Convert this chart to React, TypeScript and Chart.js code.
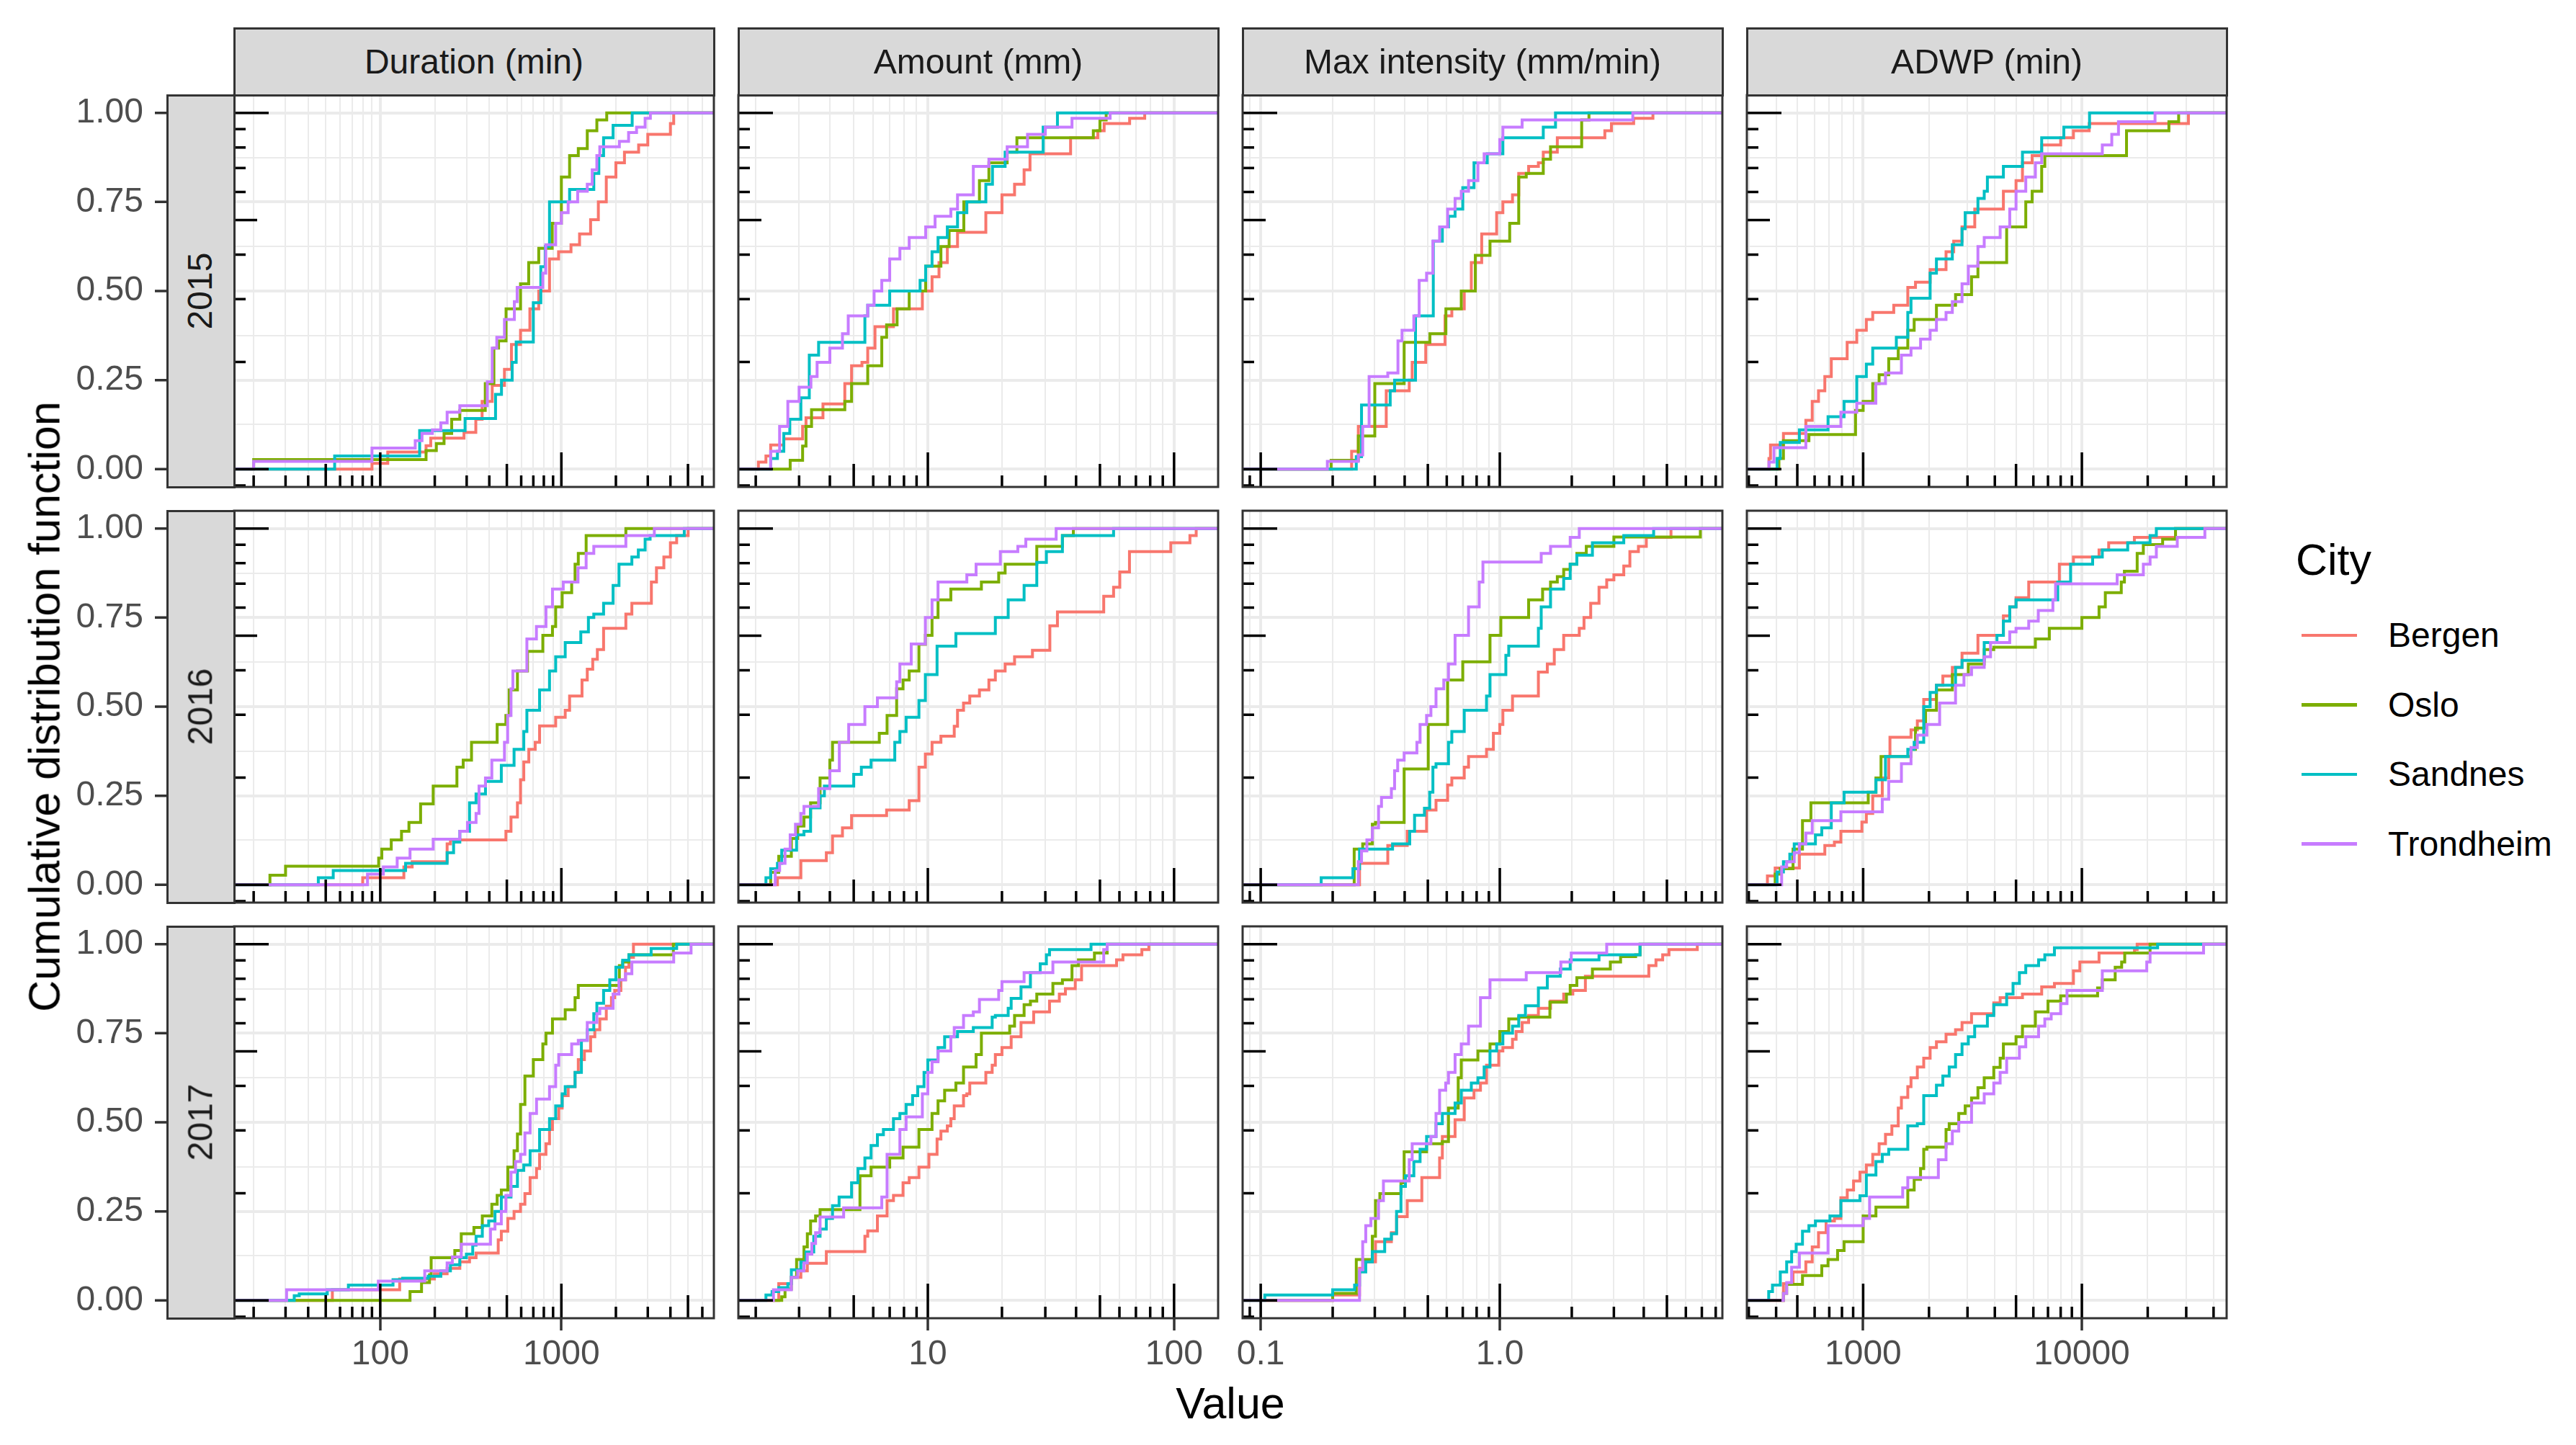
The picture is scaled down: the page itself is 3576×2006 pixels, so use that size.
import React, { useEffect, useRef } from 'react';
import { Chart, registerables } from 'chart.js';

Chart.register(...registerables);

const FONT = '"Liberation Sans", Arial, Helvetica, sans-serif';

// ---------- categories / labels ----------
const CITIES = ['Bergen', 'Oslo', 'Sandnes', 'Trondheim'];
const CITY_COLORS = ['#F8766D', '#7CAE00', '#00BFC4', '#C77CFF'];
const YEARS = ['2015', '2016', '2017'];
const VARIABLES = ['Duration (min)', 'Amount (mm)', 'Max intensity (mm/min)', 'ADWP (min)'];
const X_LIMITS = [[15.6, 6950], [1.7, 151], [0.084, 8.53], [294, 45900]];
const X_BREAKS = [[100, 1000], [10, 100], [0.1, 1], [1000, 10000]];
const X_LABELS = [['100', '1000'], ['10', '100'], ['0.1', '1.0'], ['1000', '10000']];
const Y_LIMITS = [-0.05, 1.05];
const Y_BREAKS = [0, 0.25, 0.5, 0.75, 1];
const Y_LABELS = ['0.00', '0.25', '0.50', '0.75', '1.00'];
const Y_MINOR = [0.125, 0.375, 0.625, 0.875];
const X_TITLE = 'Value';
const Y_TITLE = 'Cumulative distribution function';
const LEGEND_TITLE = 'City';

// ---------- ECDF step corners: [value, cumulative share] ----------
// 2015
const dur15Bergen = [[90,0.016],[110,0.048],[179,0.066],[190,0.087],[290,0.103],[337,0.14],[365,0.19],[415,0.235],[485,0.28],[530,0.35],[595,0.39],[670,0.45],[750,0.5],[860,0.59],[965,0.61],[1130,0.63],[1260,0.66],[1450,0.7],[1600,0.75],[1770,0.82],[2000,0.86],[2230,0.89],[2670,0.91],[3000,0.94],[4000,0.97],[4170,1]];
const dur15Oslo = [[20,0.027],[179,0.052],[204,0.072],[225,0.1],[248,0.14],[275,0.165],[380,0.24],[424,0.34],[450,0.36],[495,0.45],[595,0.52],[660,0.58],[750,0.62],[890,0.69],[1000,0.82],[1110,0.88],[1240,0.9],[1390,0.95],[1570,0.98],[1780,1]];
const dur15Sandnes = [[56,0.037],[165,0.108],[294,0.142],[433,0.21],[467,0.25],[535,0.3],[563,0.357],[700,0.467],[770,0.568],[815,0.625],[860,0.75],[1110,0.785],[1510,0.83],[1610,0.88],[1710,0.93],[1930,0.965],[2460,1]];
const dur15Trondheim = [[20,0.022],[90,0.059],[156,0.08],[170,0.1],[194,0.11],[216,0.13],[234,0.16],[275,0.178],[390,0.245],[415,0.34],[440,0.37],[485,0.42],[550,0.47],[570,0.51],[790,0.55],[820,0.63],[930,0.69],[1000,0.72],[1090,0.75],[1230,0.78],[1390,0.8],[1480,0.84],[1570,0.88],[1630,0.905],[2090,0.92],[2350,0.945],[2600,0.96],[2900,0.985],[3100,1]];

const amt15Bergen = [[2.05,0.02],[2.2,0.037],[2.3,0.068],[2.6,0.085],[3.1,0.12],[3.2,0.144],[3.75,0.183],[4.6,0.24],[4.9,0.29],[5.4,0.3],[5.7,0.34],[6.1,0.4],[7.25,0.45],[9.5,0.5],[10.4,0.54],[11.1,0.58],[12,0.625],[13.2,0.665],[17.2,0.72],[20,0.77],[22.5,0.8],[24.6,0.84],[26,0.885],[38,0.93],[49,0.95],[52,0.97],[66,0.985],[76,1]];
const amt15Oslo = [[2.76,0.025],[3.1,0.065],[3.2,0.12],[3.37,0.167],[4.6,0.19],[4.9,0.24],[5.7,0.29],[6.5,0.37],[6.8,0.405],[7.5,0.45],[8.4,0.5],[9.8,0.57],[11.3,0.625],[12.2,0.67],[14,0.75],[16.2,0.81],[17.7,0.86],[21,0.89],[23,0.93],[47,0.95],[50,0.98],[53,1]];
const amt15Sandnes = [[2.3,0.03],[2.45,0.05],[2.6,0.1],[2.75,0.14],[3.05,0.2],[3.3,0.32],[3.6,0.356],[5.55,0.43],[5.7,0.46],[7,0.5],[9.3,0.53],[9.8,0.57],[10.4,0.61],[11,0.65],[12,0.68],[13.2,0.72],[14.4,0.75],[17.2,0.8],[18.3,0.85],[20.6,0.89],[29.4,0.96],[33.6,1]];
const amt15Trondheim = [[2.3,0.05],[2.5,0.12],[2.7,0.19],[3,0.23],[3.35,0.26],[3.55,0.3],[4,0.34],[4.5,0.38],[4.75,0.43],[5.7,0.46],[6.05,0.5],[6.5,0.53],[7,0.59],[7.7,0.62],[8.4,0.65],[9.8,0.68],[10.7,0.71],[12.4,0.73],[13.2,0.77],[15.3,0.85],[17.7,0.87],[21,0.905],[25.4,0.94],[30,0.96],[38.5,0.985],[55,1]];

const max15Bergen = [[0.24,0.05],[0.256,0.12],[0.335,0.22],[0.418,0.25],[0.43,0.3],[0.49,0.35],[0.59,0.43],[0.63,0.45],[0.71,0.5],[0.76,0.58],[0.84,0.66],[0.97,0.72],[1.03,0.75],[1.13,0.77],[1.2,0.83],[1.32,0.85],[1.45,0.86],[1.52,0.89],[1.74,0.93],[2.75,0.95],[2.93,0.97],[3.63,0.985],[4.37,1]];
const max15Oslo = [[0.197,0.025],[0.256,0.093],[0.3,0.24],[0.398,0.356],[0.51,0.38],[0.595,0.45],[0.69,0.5],[0.79,0.6],[0.91,0.64],[1.1,0.69],[1.2,0.82],[1.29,0.83],[1.52,0.87],[1.63,0.905],[2.2,0.98],[2.36,1]];
const max15Sandnes = [[0.251,0.035],[0.264,0.18],[0.348,0.22],[0.363,0.25],[0.444,0.43],[0.527,0.64],[0.575,0.68],[0.61,0.71],[0.65,0.73],[0.7,0.79],[0.78,0.86],[0.886,0.885],[1.03,0.93],[1.52,0.96],[1.71,1]];
const max15Trondheim = [[0.19,0.022],[0.256,0.04],[0.267,0.12],[0.284,0.26],[0.34,0.27],[0.375,0.36],[0.39,0.39],[0.437,0.43],[0.46,0.53],[0.494,0.55],[0.525,0.64],[0.56,0.68],[0.605,0.73],[0.65,0.76],[0.69,0.78],[0.74,0.81],[0.81,0.86],[0.86,0.885],[1.0,0.925],[1.03,0.96],[1.24,0.98],[3.6,1]];

const adwp15Bergen = [[371,0.03],[377,0.068],[432,0.1],[547,0.137],[585,0.19],[625,0.22],[668,0.26],[715,0.31],[845,0.356],[935,0.39],[1034,0.42],[1106,0.44],[1380,0.46],[1600,0.51],[1735,0.525],[2024,0.56],[2393,0.61],[2594,0.64],[2832,0.68],[3238,0.73],[4377,0.78],[5000,0.81],[5350,0.86],[5925,0.88],[6550,0.91],[8000,0.93],[9150,0.95],[10800,0.97],[30700,1]];
const adwp15Oslo = [[412,0.03],[432,0.08],[565,0.097],[923,0.165],[1000,0.19],[1106,0.24],[1183,0.265],[1309,0.31],[1447,0.34],[1600,0.39],[1711,0.42],[2163,0.46],[2645,0.49],[3130,0.54],[3348,0.58],[4530,0.68],[5540,0.75],[5925,0.78],[6550,0.85],[6770,0.88],[16000,0.95],[25000,0.975],[27700,1]];
const adwp15Sandnes = [[404,0.03],[418,0.075],[511,0.11],[691,0.147],[818,0.19],[935,0.26],[1034,0.295],[1106,0.34],[1418,0.37],[1600,0.44],[1655,0.48],[2024,0.55],[2163,0.59],[2557,0.63],[2832,0.675],[2927,0.72],[3348,0.76],[3577,0.78],[3698,0.82],[4377,0.85],[5350,0.89],[6550,0.93],[8270,0.96],[10840,1]];
const adwp15Trondheim = [[371,0.02],[391,0.06],[547,0.12],[791,0.16],[935,0.185],[1143,0.24],[1265,0.27],[1496,0.32],[1655,0.34],[1830,0.365],[2024,0.39],[2163,0.42],[2393,0.44],[2557,0.47],[2832,0.52],[3026,0.57],[3348,0.625],[3577,0.65],[4230,0.68],[4680,0.73],[5000,0.78],[5540,0.82],[6130,0.86],[6550,0.885],[12400,0.91],[13700,0.94],[14700,0.975],[21600,1]];

// 2016
const dur16Bergen = [[80,0.02],[135,0.05],[150,0.065],[234,0.115],[244,0.126],[494,0.15],[527,0.19],[572,0.23],[595,0.295],[620,0.345],[661,0.38],[717,0.4],[758,0.446],[930,0.47],[1050,0.49],[1110,0.53],[1300,0.575],[1390,0.605],[1490,0.633],[1580,0.66],[1710,0.72],[2270,0.76],[2450,0.79],[3140,0.85],[3350,0.89],[3680,0.92],[4000,0.96],[4330,0.98],[5010,1]];
const dur16Oslo = [[24.6,0.027],[30,0.052],[98,0.075],[102,0.1],[115,0.126],[131,0.15],[144,0.175],[167,0.227],[196,0.277],[265,0.33],[287,0.35],[319,0.4],[442,0.45],[494,0.475],[515,0.547],[572,0.6],[650,0.655],[790,0.7],[893,0.725],[930,0.78],[1010,0.82],[1140,0.85],[1190,0.9],[1240,0.93],[1370,0.98],[2270,1]];
const dur16Sandnes = [[45.5,0.02],[55,0.04],[138,0.06],[234,0.09],[254,0.12],[275,0.15],[311,0.23],[338,0.255],[381,0.29],[466,0.335],[548,0.38],[620,0.43],[645,0.49],[758,0.547],[860,0.6],[930,0.64],[1050,0.68],[1280,0.71],[1410,0.75],[1510,0.76],[1710,0.79],[1930,0.84],[2080,0.9],[2450,0.92],[2660,0.94],[2900,0.97],[3090,0.98],[4770,1]];
const dur16Trondheim = [[85,0.03],[104,0.05],[124,0.075],[146,0.1],[196,0.128],[275,0.15],[303,0.175],[338,0.2],[351,0.277],[381,0.3],[413,0.35],[485,0.4],[505,0.475],[527,0.55],[540,0.6],[645,0.69],[728,0.725],[822,0.78],[893,0.83],[1024,0.85],[1235,0.89],[1370,0.93],[1510,0.95],[2270,0.98],[3260,1]];

const amt16Bergen = [[2.45,0.02],[3.05,0.068],[3.87,0.09],[4.1,0.137],[4.5,0.16],[4.9,0.194],[6.8,0.21],[8.4,0.236],[9.2,0.33],[9.77,0.367],[10.4,0.4],[11.3,0.417],[12.8,0.445],[13.2,0.49],[13.96,0.51],[14.8,0.53],[16.2,0.547],[17.7,0.575],[18.8,0.6],[20.6,0.62],[22.5,0.64],[26.6,0.658],[31.3,0.727],[33.6,0.766],[51.8,0.81],[56.8,0.835],[60.2,0.878],[65.9,0.935],[97,0.96],[116,0.98],[123,1]];
const amt16Oslo = [[2.3,0.035],[2.48,0.08],[2.79,0.13],[2.96,0.165],[3.14,0.19],[3.34,0.23],[3.65,0.3],[4.0,0.35],[4.1,0.4],[6.35,0.425],[6.83,0.475],[7.47,0.55],[7.93,0.575],[8.4,0.6],[9.2,0.675],[9.77,0.7],[10.4,0.75],[11,0.8],[12.4,0.83],[16.5,0.85],[19.4,0.875],[20.6,0.9],[27.7,0.95],[35.2,0.98],[39,1]];
const amt16Sandnes = [[2.2,0.02],[2.3,0.045],[2.45,0.06],[2.55,0.097],[2.93,0.14],[3.14,0.15],[3.34,0.216],[3.65,0.25],[3.8,0.277],[5.0,0.31],[5.37,0.33],[5.88,0.35],[7.34,0.4],[7.7,0.43],[8.16,0.47],[9.2,0.517],[9.77,0.59],[10.9,0.67],[13,0.705],[18.8,0.75],[21.2,0.8],[24.6,0.84],[27.7,0.905],[30.3,0.935],[35.2,0.98],[56.8,1]];
const amt16Trondheim = [[2.4,0.04],[2.5,0.06],[2.63,0.1],[2.76,0.14],[2.9,0.17],[3.05,0.2],[3.14,0.22],[3.6,0.27],[4.0,0.32],[4.37,0.4],[4.77,0.45],[5.55,0.5],[6.24,0.525],[7.47,0.57],[7.7,0.62],[8.56,0.676],[9.77,0.75],[10.4,0.8],[11,0.85],[14.4,0.87],[15.7,0.9],[19.7,0.935],[23.2,0.95],[25,0.97],[33.2,1]];

const max16Bergen = [[0.259,0.06],[0.34,0.11],[0.41,0.15],[0.494,0.21],[0.541,0.237],[0.605,0.28],[0.63,0.3],[0.71,0.33],[0.74,0.36],[0.88,0.38],[0.94,0.425],[1.0,0.45],[1.03,0.49],[1.13,0.53],[1.45,0.597],[1.58,0.62],[1.69,0.66],[1.85,0.7],[2.15,0.72],[2.25,0.75],[2.4,0.79],[2.6,0.835],[2.8,0.856],[3.0,0.87],[3.3,0.895],[3.5,0.935],[3.8,0.95],[4.1,0.975],[5.2,1]];
const max16Oslo = [[0.246,0.1],[0.267,0.115],[0.293,0.17],[0.302,0.175],[0.398,0.325],[0.502,0.45],[0.605,0.575],[0.7,0.626],[0.91,0.7],[1.01,0.75],[1.32,0.8],[1.51,0.83],[1.63,0.85],[1.74,0.865],[1.85,0.885],[1.97,0.9],[2.1,0.93],[2.3,0.95],[3.0,0.976],[6.9,1]];
const max16Sandnes = [[0.179,0.02],[0.243,0.045],[0.259,0.1],[0.356,0.115],[0.42,0.15],[0.44,0.195],[0.484,0.215],[0.509,0.26],[0.525,0.33],[0.541,0.34],[0.61,0.4],[0.63,0.43],[0.71,0.49],[0.88,0.53],[0.91,0.59],[1.06,0.644],[1.09,0.67],[1.45,0.72],[1.49,0.78],[1.63,0.83],[1.85,0.86],[1.97,0.9],[2.1,0.925],[2.44,0.96],[3.3,0.98],[4.4,1]];
const max16Trondheim = [[0.256,0.065],[0.264,0.095],[0.278,0.126],[0.293,0.16],[0.311,0.22],[0.32,0.245],[0.352,0.27],[0.363,0.32],[0.374,0.35],[0.398,0.37],[0.45,0.4],[0.464,0.45],[0.494,0.475],[0.515,0.5],[0.541,0.55],[0.583,0.575],[0.61,0.62],[0.65,0.7],[0.74,0.78],[0.82,0.85],[0.85,0.906],[1.49,0.93],[1.63,0.95],[1.97,0.975],[2.15,1]];

const adwp16Bergen = [[365,0.025],[396,0.047],[511,0.086],[668,0.11],[739,0.12],[791,0.15],[987,0.176],[1034,0.2],[1106,0.25],[1223,0.3],[1309,0.36],[1326,0.414],[1655,0.435],[1769,0.46],[1892,0.52],[2163,0.56],[2314,0.586],[2557,0.61],[2832,0.65],[3348,0.7],[4377,0.755],[4680,0.78],[5000,0.806],[5715,0.85],[7890,0.9],[9150,0.92],[11980,0.94],[13260,0.96],[17380,0.975],[26800,1]];
const adwp16Oslo = [[396,0.03],[418,0.045],[478,0.1],[528,0.18],[577,0.23],[1055,0.26],[1144,0.3],[1207,0.36],[1655,0.38],[1735,0.44],[1930,0.49],[2163,0.547],[2557,0.59],[3026,0.62],[3577,0.66],[3956,0.667],[6130,0.69],[7100,0.72],[10000,0.75],[11980,0.78],[12800,0.82],[15140,0.85],[15650,0.88],[17900,0.93],[19100,0.955],[23400,0.97],[26800,1]];
const adwp16Sandnes = [[404,0.036],[432,0.065],[462,0.086],[484,0.115],[605,0.14],[647,0.16],[715,0.23],[818,0.26],[1144,0.295],[1265,0.36],[1600,0.38],[1711,0.4],[1892,0.5],[2024,0.54],[2163,0.56],[2645,0.61],[2832,0.63],[3577,0.68],[4090,0.7],[4377,0.74],[4680,0.78],[5000,0.8],[7760,0.85],[8880,0.9],[11200,0.92],[12400,0.94],[16200,0.96],[20500,0.98],[21900,1]];
const adwp16Trondheim = [[424,0.05],[447,0.065],[484,0.09],[511,0.115],[547,0.145],[585,0.18],[791,0.205],[1223,0.24],[1309,0.29],[1496,0.34],[1655,0.385],[1769,0.42],[1956,0.45],[2237,0.51],[2645,0.56],[2890,0.59],[3130,0.61],[3577,0.64],[3823,0.68],[4680,0.71],[5000,0.72],[5715,0.74],[6320,0.77],[7370,0.8],[7580,0.845],[14500,0.87],[19100,0.9],[20500,0.92],[21900,0.95],[27300,0.975],[36500,1]];

// 2017
const dur17Bergen = [[54.4,0.03],[128,0.06],[199,0.075],[234,0.09],[275,0.108],[311,0.12],[338,0.133],[448,0.17],[466,0.194],[506,0.23],[548,0.25],[595,0.27],[629,0.3],[672,0.345],[729,0.37],[758,0.41],[822,0.44],[860,0.48],[893,0.51],[967,0.54],[1010,0.575],[1090,0.6],[1190,0.64],[1240,0.676],[1340,0.7],[1450,0.74],[1530,0.76],[1630,0.79],[1770,0.826],[1890,0.85],[1970,0.87],[2130,0.9],[2260,0.935],[2360,0.963],[2500,1]];
const dur17Oslo = [[146,0.025],[169,0.05],[187,0.072],[191,0.12],[258,0.14],[280,0.187],[329,0.205],[366,0.237],[413,0.27],[442,0.295],[466,0.31],[506,0.374],[548,0.42],[572,0.467],[595,0.55],[629,0.63],[700,0.676],[790,0.72],[822,0.75],[893,0.79],[1050,0.816],[1190,0.85],[1240,0.884],[2090,0.94],[2180,0.95],[2360,0.97],[4150,1]];
const dur17Sandnes = [[33.5,0.013],[35.7,0.018],[51,0.03],[66.7,0.043],[117.6,0.058],[133,0.062],[184,0.068],[216,0.083],[244,0.1],[275,0.12],[299,0.13],[324,0.155],[338,0.18],[366,0.21],[397,0.223],[430,0.25],[466,0.29],[527,0.32],[572,0.365],[620,0.38],[672,0.42],[758,0.48],[860,0.51],[930,0.546],[1010,0.58],[1050,0.6],[1190,0.64],[1290,0.73],[1390,0.76],[1510,0.805],[1570,0.834],[1710,0.87],[1850,0.9],[2000,0.935],[2180,0.955],[2360,0.97],[3130,0.988],[4330,1]];
const dur17Trondheim = [[30.4,0.03],[97.6,0.054],[176,0.083],[234,0.105],[250,0.122],[280,0.158],[406,0.2],[430,0.215],[466,0.25],[494,0.295],[527,0.36],[558,0.39],[595,0.41],[629,0.47],[672,0.525],[729,0.565],[860,0.6],[930,0.66],[967,0.69],[1140,0.72],[1240,0.73],[1390,0.78],[1570,0.805],[1630,0.82],[1930,0.86],[2080,0.9],[2260,0.917],[2450,0.95],[4170,0.975],[5200,1]];

const amt17Bergen = [[2.48,0.047],[2.79,0.065],[3.05,0.083],[3.24,0.104],[3.87,0.137],[5.55,0.18],[5.7,0.195],[6.24,0.237],[6.83,0.28],[7.25,0.295],[7.93,0.33],[8.4,0.345],[9.2,0.374],[10.1,0.41],[10.9,0.453],[11.3,0.475],[12,0.49],[12.4,0.51],[12.8,0.546],[13.96,0.575],[14.4,0.58],[14.8,0.61],[17.2,0.64],[18.25,0.66],[18.8,0.69],[20,0.71],[21.8,0.74],[23.9,0.78],[26.9,0.81],[31.2,0.84],[34.2,0.86],[36.2,0.875],[39.7,0.9],[42.1,0.94],[58.4,0.956],[62,0.97],[74,0.985],[79,1]];
const amt17Oslo = [[2.55,0.01],[2.63,0.032],[2.79,0.065],[2.93,0.115],[3.14,0.15],[3.24,0.187],[3.34,0.223],[3.5,0.237],[3.65,0.255],[5.3,0.35],[5.88,0.374],[7.0,0.4],[7.93,0.43],[9.2,0.48],[10.4,0.525],[11,0.56],[11.7,0.59],[13,0.61],[13.96,0.655],[15.7,0.69],[16.5,0.75],[21.5,0.77],[22.5,0.8],[24.6,0.83],[26.1,0.84],[27.7,0.86],[32.2,0.89],[35.2,0.9],[38.5,0.94],[40.9,0.956],[47.5,0.975],[53.5,1]];
const amt17Sandnes = [[2.2,0.015],[2.33,0.025],[2.48,0.036],[2.7,0.047],[2.79,0.086],[3.05,0.108],[3.2,0.136],[3.44,0.18],[3.65,0.2],[3.87,0.23],[4.1,0.266],[4.36,0.29],[4.9,0.33],[5.2,0.37],[5.55,0.4],[5.88,0.435],[6.24,0.465],[6.6,0.48],[7.25,0.51],[7.7,0.525],[8.16,0.55],[8.67,0.575],[9.1,0.6],[9.65,0.64],[10,0.675],[11,0.71],[11.7,0.74],[13.2,0.755],[15.3,0.766],[18.25,0.795],[18.8,0.8],[21.2,0.82],[21.8,0.848],[23.9,0.88],[26.1,0.92],[28.6,0.945],[30.3,0.97],[31.2,0.985],[46,1]];
const amt17Trondheim = [[2.36,0.03],[2.79,0.065],[2.96,0.083],[3.14,0.105],[3.24,0.13],[3.38,0.16],[3.5,0.19],[3.65,0.234],[4.55,0.26],[6.5,0.29],[6.83,0.41],[7.7,0.48],[8.16,0.515],[9.5,0.58],[10,0.64],[10.4,0.67],[11,0.7],[12.4,0.74],[12.8,0.766],[13.96,0.8],[15.3,0.81],[16.2,0.845],[19.4,0.87],[20,0.895],[24.6,0.92],[32.2,0.95],[51.8,0.985],[53.5,1]];

const max17Bergen = [[0.2,0.015],[0.259,0.09],[0.267,0.108],[0.302,0.165],[0.352,0.19],[0.37,0.235],[0.41,0.28],[0.472,0.345],[0.56,0.4],[0.575,0.46],[0.65,0.507],[0.71,0.568],[0.78,0.59],[0.83,0.61],[0.88,0.66],[0.99,0.7],[1.03,0.71],[1.13,0.733],[1.17,0.755],[1.24,0.78],[1.32,0.8],[1.45,0.82],[1.63,0.84],[1.85,0.86],[2.02,0.87],[2.28,0.91],[4.2,0.94],[4.5,0.956],[4.8,0.97],[5.1,0.985],[6.7,1]];
const max17Oslo = [[0.2,0.02],[0.251,0.115],[0.293,0.18],[0.302,0.28],[0.315,0.3],[0.386,0.33],[0.398,0.417],[0.494,0.44],[0.575,0.446],[0.61,0.54],[0.67,0.625],[0.69,0.675],[0.81,0.7],[0.91,0.72],[1.0,0.755],[1.09,0.79],[1.2,0.795],[1.62,0.837],[1.9,0.86],[1.97,0.884],[2.1,0.906],[2.44,0.93],[2.9,0.95],[3.2,0.965],[3.7,0.97],[3.86,1]];
const max17Sandnes = [[0.104,0.015],[0.2,0.03],[0.247,0.043],[0.259,0.08],[0.275,0.108],[0.293,0.137],[0.33,0.172],[0.352,0.187],[0.37,0.25],[0.386,0.32],[0.403,0.35],[0.437,0.39],[0.464,0.424],[0.494,0.46],[0.541,0.496],[0.575,0.525],[0.65,0.554],[0.69,0.59],[0.76,0.61],[0.81,0.625],[0.86,0.655],[0.91,0.7],[0.97,0.72],[1.03,0.75],[1.13,0.77],[1.2,0.8],[1.28,0.827],[1.45,0.877],[1.58,0.91],[1.79,0.93],[1.97,0.956],[2.6,0.97],[3.86,1]];
const max17Trondheim = [[0.259,0.086],[0.267,0.165],[0.275,0.21],[0.289,0.23],[0.311,0.28],[0.326,0.335],[0.418,0.395],[0.43,0.44],[0.515,0.46],[0.541,0.525],[0.56,0.59],[0.594,0.61],[0.61,0.64],[0.65,0.69],[0.69,0.72],[0.74,0.77],[0.83,0.85],[0.91,0.9],[1.29,0.92],[1.8,0.95],[1.99,0.975],[2.8,1]];

const adwp17Bergen = [[432,0.047],[478,0.08],[547,0.108],[585,0.15],[625,0.19],[677,0.223],[739,0.23],[791,0.288],[846,0.31],[904,0.335],[967,0.36],[1034,0.38],[1106,0.41],[1183,0.44],[1265,0.466],[1353,0.49],[1447,0.54],[1496,0.57],[1600,0.6],[1655,0.625],[1769,0.655],[1892,0.68],[2024,0.71],[2163,0.726],[2393,0.747],[2645,0.76],[2832,0.78],[3130,0.805],[3956,0.835],[4230,0.85],[5350,0.86],[6550,0.88],[7490,0.89],[9150,0.925],[9790,0.95],[11980,0.975],[17400,0.985],[17900,1]];
const adwp17Oslo = [[432,0.02],[447,0.045],[528,0.07],[647,0.097],[691,0.115],[764,0.14],[818,0.165],[1000,0.237],[1144,0.262],[1600,0.31],[1711,0.34],[1830,0.37],[1892,0.424],[1956,0.43],[2393,0.48],[2474,0.496],[2736,0.525],[2927,0.546],[3130,0.568],[3348,0.597],[3577,0.625],[3956,0.654],[4230,0.68],[4377,0.72],[5000,0.74],[5350,0.77],[6130,0.81],[7000,0.84],[8000,0.855],[11800,0.877],[12400,0.9],[14200,0.935],[15200,0.95],[15700,0.975],[20500,1]];
const adwp17Sandnes = [[370,0.025],[385,0.043],[418,0.08],[447,0.108],[471,0.137],[494,0.158],[528,0.194],[565,0.21],[605,0.223],[705,0.237],[791,0.28],[967,0.294],[1034,0.352],[1144,0.39],[1223,0.41],[1309,0.424],[1600,0.49],[1769,0.496],[1892,0.575],[2163,0.604],[2314,0.63],[2474,0.655],[2645,0.69],[2832,0.72],[3026,0.74],[3235,0.77],[3698,0.8],[3956,0.83],[4530,0.86],[4845,0.89],[5180,0.92],[5540,0.94],[6340,0.956],[6770,0.97],[7490,0.99],[22200,1]];
const adwp17Trondheim = [[432,0.02],[447,0.05],[471,0.093],[511,0.133],[691,0.21],[1000,0.23],[1070,0.29],[1516,0.316],[1600,0.345],[2207,0.395],[2393,0.44],[2557,0.475],[2736,0.5],[3130,0.554],[3577,0.58],[3956,0.61],[4230,0.64],[4530,0.68],[5180,0.712],[5540,0.74],[6340,0.77],[6770,0.79],[7240,0.805],[8000,0.833],[8550,0.87],[12400,0.925],[19800,0.95],[20500,0.975],[36000,1]];

// [year][variable][city]
const SERIES: number[][][][][] = [
  [
    [dur15Bergen, dur15Oslo, dur15Sandnes, dur15Trondheim],
    [amt15Bergen, amt15Oslo, amt15Sandnes, amt15Trondheim],
    [max15Bergen, max15Oslo, max15Sandnes, max15Trondheim],
    [adwp15Bergen, adwp15Oslo, adwp15Sandnes, adwp15Trondheim],
  ],
  [
    [dur16Bergen, dur16Oslo, dur16Sandnes, dur16Trondheim],
    [amt16Bergen, amt16Oslo, amt16Sandnes, amt16Trondheim],
    [max16Bergen, max16Oslo, max16Sandnes, max16Trondheim],
    [adwp16Bergen, adwp16Oslo, adwp16Sandnes, adwp16Trondheim],
  ],
  [
    [dur17Bergen, dur17Oslo, dur17Sandnes, dur17Trondheim],
    [amt17Bergen, amt17Oslo, amt17Sandnes, amt17Trondheim],
    [max17Bergen, max17Oslo, max17Sandnes, max17Trondheim],
    [adwp17Bergen, adwp17Oslo, adwp17Sandnes, adwp17Trondheim],
  ],
];

// ---------- layout (page pixels) ----------
const PAGE_W = 3576;
const PAGE_H = 2006;
const PANEL_LEFT = [325, 1025, 1725, 2425];
const PANEL_TOP = [132, 709, 1286];
const PANEL_W = 666;
const PANEL_H = 544;
const STRIP = 93;
const M = 8;
const X_AXIS_H = 110;
const Y_LABEL_RIGHT = 199;
const AXIS_TICK = 17;
const TEXT_SIZE = 48;
const TITLE_SIZE = 61;

const near = (a: number, b: number) => Math.abs(a / b - 1) < 1e-9;

function logSteps(min: number, max: number) {
  const out: { v: number; k: number }[] = [];
  for (let e = Math.floor(Math.log10(min)) - 1; e <= Math.ceil(Math.log10(max)); e++) {
    for (let k = 1; k <= 9; k++) {
      const v = k * Math.pow(10, e);
      if (v > min && v < max) out.push({ v, k });
    }
  }
  return out;
}

function yLogSteps(min: number, max: number) {
  const out: { v: number; k: number }[] = [];
  for (let e = -2; e <= 2; e++) {
    for (let k = 1; k <= 9; k++) {
      const v = Math.log10(k * Math.pow(10, e));
      if (v >= min - 1e-9 && v <= max + 1e-9) out.push({ v, k });
    }
  }
  return out;
}

const tickLen = (k: number) => (k === 1 ? 48 : k === 5 ? 32 : 16);

function Panel({ row, col }: { row: number; col: number }) {
  const ref = useRef<HTMLCanvasElement | null>(null);
  const isLeft = col === 0;
  const isBottom = row === YEARS.length - 1;
  const canvasLeft = isLeft ? 0 : PANEL_LEFT[col] - M;
  const canvasTop = PANEL_TOP[row] - M;
  const width = PANEL_LEFT[col] + PANEL_W + M - canvasLeft;
  const height = M + PANEL_H + (isBottom ? X_AXIS_H : M);

  useEffect(() => {
    if (!ref.current) return;
    const [xmin, xmax] = X_LIMITS[col];
    const [ymin, ymax] = Y_LIMITS;
    const breaks = X_BREAKS[col];
    const xSteps = logSteps(xmin, xmax);
    const ySteps = yLogSteps(ymin, ymax);
    const yGrid = [...Y_BREAKS, ...Y_MINOR].sort((a, b) => a - b);
    const isMajorX = (v: number) => breaks.some((b) => near(v, b));
    const isMajorY = (v: number) => Y_BREAKS.some((b) => Math.abs(v - b) < 1e-9);

    const datasets = CITIES.map((city, i) => ({
      label: city,
      data: [
        { x: xmin, y: 0 },
        ...SERIES[row][col][i].map(([x, y]) => ({ x, y })),
        { x: xmax, y: 1 },
      ],
      borderColor: CITY_COLORS[i],
      backgroundColor: CITY_COLORS[i],
      borderWidth: 4,
      pointRadius: 0,
      pointHoverRadius: 0,
      fill: false,
      stepped: 'before' as const,
      order: CITIES.length - i,
    }));

    const decor = {
      id: 'panelDecor',
      afterDatasetsDraw(chart: any) {
        const { ctx, chartArea: a, scales } = chart;
        const xs = scales.x;
        const ys = scales.y;
        ctx.save();
        ctx.lineCap = 'butt';
        ctx.strokeStyle = '#000000';
        ctx.lineWidth = 3.5;
        ctx.beginPath();
        for (const s of xSteps) {
          const px = xs.getPixelForValue(s.v);
          ctx.moveTo(px, a.bottom);
          ctx.lineTo(px, a.bottom - tickLen(s.k));
        }
        for (const s of ySteps) {
          const py = ys.getPixelForValue(s.v);
          ctx.moveTo(a.left, py);
          ctx.lineTo(a.left + tickLen(s.k), py);
        }
        ctx.stroke();
        ctx.strokeStyle = '#333333';
        ctx.lineWidth = 3;
        ctx.strokeRect(a.left, a.top, a.right - a.left, a.bottom - a.top);
        if (isLeft) {
          ctx.lineWidth = 3.5;
          ctx.beginPath();
          for (const v of Y_BREAKS) {
            const py = ys.getPixelForValue(v);
            ctx.moveTo(a.left - STRIP - AXIS_TICK, py);
            ctx.lineTo(a.left - STRIP, py);
          }
          ctx.stroke();
        }
        ctx.restore();
      },
    };

    const chart = new Chart(ref.current, {
      type: 'line',
      data: { datasets } as any,
      options: {
        animation: false,
        responsive: false,
        maintainAspectRatio: false,
        events: [],
        layout: {
          padding: { left: isLeft ? 0 : M, right: M, top: M, bottom: isBottom ? 0 : M },
        },
        plugins: { legend: { display: false }, tooltip: { enabled: false } },
        scales: {
          x: {
            type: 'logarithmic',
            position: 'bottom',
            min: xmin,
            max: xmax,
            bounds: 'data',
            afterBuildTicks: (s: any) => {
              s.ticks = xSteps.map((t) => ({ value: t.v }));
            },
            afterFit: (s: any) => {
              s.height = isBottom ? X_AXIS_H : 0;
              s.paddingLeft = 0;
              s.paddingRight = 0;
              s.paddingTop = 0;
              s.paddingBottom = 0;
            },
            border: { display: false },
            grid: {
              color: '#EBEBEB',
              lineWidth: (c: any) => (c.tick && isMajorX(c.tick.value) ? 4 : 2),
              drawTicks: isBottom,
              tickLength: AXIS_TICK,
              tickWidth: 3.5,
              tickColor: (c: any) => (c.tick && isMajorX(c.tick.value) ? '#333333' : 'rgba(0,0,0,0)'),
            },
            ticks: {
              display: isBottom,
              autoSkip: false,
              maxRotation: 0,
              minRotation: 0,
              padding: 5,
              color: '#4D4D4D',
              font: { family: FONT, size: TEXT_SIZE },
              callback: (v: any) => {
                const idx = breaks.findIndex((b) => near(Number(v), b));
                return idx >= 0 ? X_LABELS[col][idx] : '';
              },
            },
          },
          y: {
            type: 'linear',
            position: 'left',
            min: ymin,
            max: ymax,
            bounds: 'data',
            afterBuildTicks: (s: any) => {
              s.ticks = yGrid.map((v) => ({ value: v }));
            },
            afterFit: (s: any) => {
              s.width = isLeft ? PANEL_LEFT[0] : 0;
              s.paddingLeft = 0;
              s.paddingRight = 0;
              s.paddingTop = 0;
              s.paddingBottom = 0;
            },
            border: { display: false },
            grid: {
              color: '#EBEBEB',
              lineWidth: (c: any) => (c.tick && isMajorY(c.tick.value) ? 4 : 2),
              drawTicks: false,
            },
            ticks: {
              display: isLeft,
              autoSkip: false,
              padding: PANEL_LEFT[0] - Y_LABEL_RIGHT,
              color: '#4D4D4D',
              font: { family: FONT, size: TEXT_SIZE },
              callback: (v: any) => {
                const idx = Y_BREAKS.findIndex((b) => Math.abs(Number(v) - b) < 1e-9);
                return idx >= 0 ? Y_LABELS[idx] : '';
              },
            },
          },
        },
      } as any,
      plugins: [decor],
    });
    return () => chart.destroy();
  }, [row, col]);

  return (
    <canvas
      ref={ref}
      width={width}
      height={height}
      style={{ position: 'absolute', left: canvasLeft, top: canvasTop, width, height, zIndex: 1 }}
    />
  );
}

const stripStyle: React.CSSProperties = {
  position: 'absolute',
  boxSizing: 'border-box',
  border: '3px solid #333333',
  background: '#D9D9D9',
  display: 'flex',
  alignItems: 'center',
  justifyContent: 'center',
  color: '#1A1A1A',
  fontSize: TEXT_SIZE,
  lineHeight: 1,
  whiteSpace: 'nowrap',
  zIndex: 2,
};

export default function App() {
  const legendY = [882, 978.5, 1075, 1171.5];
  return (
    <div
      style={{
        position: 'absolute',
        left: 0,
        top: 0,
        width: PAGE_W,
        height: PAGE_H,
        background: '#FFFFFF',
        overflow: 'hidden',
        fontFamily: FONT,
      }}
    >
      {YEARS.map((_, r) => VARIABLES.map((__, c) => <Panel key={`${r}-${c}`} row={r} col={c} />))}

      {VARIABLES.map((v, c) => (
        <div
          key={v}
          style={{
            ...stripStyle,
            left: PANEL_LEFT[c] - 1.5,
            top: PANEL_TOP[0] - STRIP - 1.5,
            width: PANEL_W + 3,
            height: STRIP + 3,
          }}
        >
          {v}
        </div>
      ))}

      {YEARS.map((y, r) => (
        <div
          key={y}
          style={{
            ...stripStyle,
            left: PANEL_LEFT[0] - STRIP - 1.5,
            top: PANEL_TOP[r] - 1.5,
            width: STRIP + 3,
            height: PANEL_H + 3,
          }}
        >
          <span style={{ display: 'inline-block', transform: 'rotate(-90deg)', flexShrink: 0 }}>{y}</span>
        </div>
      ))}

      <div
        style={{
          position: 'absolute',
          left: 62,
          top: (PANEL_TOP[0] + PANEL_TOP[2] + PANEL_H) / 2,
          transform: 'translate(-50%, -50%) rotate(-90deg)',
          fontSize: TITLE_SIZE,
          lineHeight: 1,
          color: '#000000',
          whiteSpace: 'nowrap',
          zIndex: 3,
        }}
      >
        {Y_TITLE}
      </div>

      <div
        style={{
          position: 'absolute',
          left: (PANEL_LEFT[0] + PANEL_LEFT[3] + PANEL_W) / 2,
          top: 1948,
          transform: 'translate(-50%, -50%)',
          fontSize: TITLE_SIZE,
          lineHeight: 1,
          color: '#000000',
          whiteSpace: 'nowrap',
          zIndex: 3,
        }}
      >
        {X_TITLE}
      </div>

      <div
        style={{
          position: 'absolute',
          left: 3187,
          top: 747,
          fontSize: TITLE_SIZE,
          lineHeight: 1,
          color: '#000000',
          zIndex: 3,
        }}
      >
        {LEGEND_TITLE}
      </div>
      {CITIES.map((city, i) => (
        <React.Fragment key={city}>
          <div
            style={{
              position: 'absolute',
              left: 3195,
              top: legendY[i] - 2.25,
              width: 77,
              height: 4.5,
              background: CITY_COLORS[i],
              zIndex: 3,
            }}
          />
          <div
            style={{
              position: 'absolute',
              left: 3315,
              top: legendY[i] - TEXT_SIZE / 2,
              fontSize: TEXT_SIZE,
              lineHeight: `${TEXT_SIZE}px`,
              color: '#000000',
              whiteSpace: 'nowrap',
              zIndex: 3,
            }}
          >
            {city}
          </div>
        </React.Fragment>
      ))}
    </div>
  );
}
